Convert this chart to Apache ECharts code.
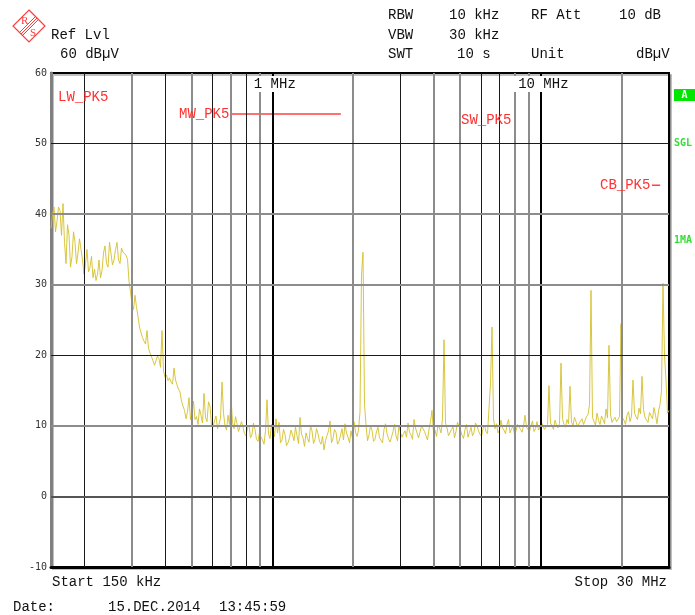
<!DOCTYPE html>
<html><head><meta charset="utf-8">
<script src="https://cdn.jsdelivr.net/npm/echarts@6/dist/echarts.min.js"></script>
<style>html,body{margin:0;padding:0;background:#fff;}#c{width:695px;height:615px;}</style>
</head><body><div id="c"></div>
<script>
// Sweep settings (MHz)
const startFreqMHz = 0.15;
const stopFreqMHz = 30;
const levels = [
 38,40,41,37.5,39,41,40.5,37,41.5,36,33,38.5,37,32.5,34,37.5,36,33,34.5,36.5,
 35,33.5,31.5,33,35,31.8,32.5,34,31,32.2,30.6,31.5,33.5,31,32,34.5,35.5,33,32.5,36,
 35.8,32.8,33.5,35,36,33.5,33,35.2,34.6,34.8,34.2,33.6,30.5,29,
 27.2,26.5,28.5,26.8,25.5,24,23.2,22.5,22,21.6,23.5,21,20.3,19.8,19.2,18.6,18.8,19.9,19.5,18.3,
 23.5,17.8,16.9,17.2,16.4,16.8,16.2,15.9,18.2,16.5,15.8,15.2,14.8,13.5,12.8,12.2,11,12,14,10.9,
 11.8,13.5,10.9,11.3,10.2,12.4,11.5,10.4,14.6,11.2,10.6,13.4,12.8,10.1,9.8,10.7,11.4,9.6,10.2,11.1,
 16.2,11.8,10,9.4,11.5,10.2,14,10.5,9.6,11.3,10.3,9.2,9,10.6,9.8,8.9,8.6,9.7,10.1,8.3,
 8.8,10.4,9.5,8.1,7.8,9.1,8.4,8,7.4,9.3,13.7,8.9,8.2,10.2,9.2,8.5,11,9,
 10.5,7.6,8,9.5,8.8,7.2,7.6,8.3,9.4,8.7,7.9,9.8,8.6,7.5,11.2,8.8,8.3,7.1,9,8.2,
 7.7,10,9.3,7.5,8.1,9.6,8.9,7.8,7.4,8.5,6.6,7.9,8.6,9.3,10.7,7.6,8.2,9.5,9.1,7.4,
 7.8,8.7,9.6,8,10.3,9,8.4,7.6,9.3,8.2,10.6,9.1,8.5,9.4,12,31.4,34.6,13,10.2,7.9,
 8.7,10,9.4,7.8,8.1,9.2,9.8,8.3,8.3,7.6,9.5,10.3,8.9,8.2,7.7,8.4,9.2,10.2,8.6,7.9,
 10.1,9,8.4,8.9,
 9.3,8.4,10.4,9.1,8.7,8.1,10.9,9.7,9.6,8.3,8.5,10,9.8,9.2,8.6,8,9.5,10.6,12.2,9,
 9.4,8.5,10.1,9.7,9,11,22.2,10.4,9.7,8.6,8.8,9.5,9.9,8.3,9.2,10.5,10.3,9.4,8.7,8.2,
 9.5,10.2,8.4,9.1,9.8,8.6,9.1,10.4,10,9.3,8.8,8.5,9.6,10.1,9.2,8.9,12.5,16,24,11,
 9.6,10.3,9,9.4,10.8,9.7,9.4,8.9,10.2,10.9,9,9.6,9.9,8.8,9.3,10.2,10.4,9.5,9.1,10,
 11.5,9.8,9.5,9.2,10,10.7,9.2,9.6,10.6,9.4,9.8,10.5,10.3,9.5,9.6,10.2,15.7,10.4,10,9.5,
 10.8,10.1,9.7,10.3,18.9,11,10.2,9.8,10.9,10.3,15.6,10.5,10.1,11.2,10.6,9.9,9.8,10.7,11,10.2,
 10.4,11.3,11.6,13,29.2,11.2,10.6,10.1,11.8,10.8,10.2,11.4,10.9,10.3,12.4,11.1,21.4,11.6,10.5,10.9,
 11.2,10.6,10.4,11.3,24.5,11.1,10.8,10.2,11.5,12,10.6,11.4,16.5,11.8,11.3,10.9,12.5,11.7,17,12.3,
 11.2,10.8,10.5,11.9,11.7,11,12.6,11.5,10.3,12.1,13,15,30.2,20,16.5,11.8,12.2
];
// Grid
const yTicks = [-10, 0, 10, 20, 30, 40, 50, 60];
const gridFreqs = [0.2, 0.3, 0.4, 0.5, 0.6, 0.7, 0.8, 0.9, 1, 2, 3, 4, 5, 6, 7, 8, 9, 10, 20];
const gridFreqShade = ['k','g','k','g','k','g','k','g','K','g','k','g','g','k','k','g','g','K','g'];
const gridLevels = [0, 10, 20, 30, 40, 50];
const gridLevelShade = ['d','g','k','g','g','k'];
// Limit lines
const mwLimitFreqs = [0.7, 1.8];
const mwLimitLevel = 54.2;
const cbLimitFreqs = [25.9, 27.8];
const cbLimitLevel = 44.1;
const decadeLabels = {1: '1 MHz', 10: '10 MHz'};

const shadeStyle = {
  k: {color: '#1a1a1a', width: 1},
  g: {color: '#8c8c8c', width: 2},
  K: {color: '#000', width: 2},
  d: {color: '#555', width: 2}
};

const N = levels.length;
// sweep points are log-spaced between start and stop frequency
const trace = levels.map((v, i) => [startFreqMHz * Math.pow(stopFreqMHz / startFreqMHz, i / (N - 1)), v]);

const MONO = 'Liberation Mono';
const txt = (x, y, s, opt) => Object.assign({
  type: 'text', x: x, y: y, z: 100,
  style: Object.assign({text: s, font: '14px "' + MONO + '"', fill: '#111', verticalAlign: 'middle'}, (opt && opt.style) || {})
}, opt && opt.el || {});

const chart = echarts.init(document.getElementById('c'), null, {renderer: 'canvas'});
chart.setOption({
  animation: false,
  backgroundColor: '#fff',
  grid: {left: 51, right: 26, top: 73, bottom: 48, show: true, borderColor: '#000', borderWidth: 2,
         backgroundColor: '#fff', shadowColor: 'rgba(0,0,0,0.25)', shadowOffsetX: 2, shadowOffsetY: 2, shadowBlur: 0},
  xAxis: [
    {type: 'log', logBase: 10, min: startFreqMHz, max: stopFreqMHz, position: 'bottom',
     axisLine: {show: true, onZero: false, lineStyle: {color: '#000', width: 3}},
     axisTick: {show: false}, axisLabel: {show: false}, splitLine: {show: false}},
    {type: 'log', logBase: 10, min: startFreqMHz, max: stopFreqMHz, position: 'top', z: 10,
     axisLine: {show: false}, axisTick: {show: false}, splitLine: {show: false},
     axisLabel: {show: true, inside: true, margin: 3,
       formatter: v => { for (const k in decadeLabels) { if (Math.abs(v - Number(k)) < 1e-6) return '{b|' + decadeLabels[k] + '}'; } return ''; },
       rich: {b: {fontFamily: MONO, fontSize: 14, color: '#111', backgroundColor: '#fff', padding: [1, 0, 1, 5]}},
       showMinLabel: false, showMaxLabel: false}}
  ],
  yAxis: {type: 'value', min: yTicks[0], max: yTicks[yTicks.length - 1], interval: 10,
    axisLine: {show: true, lineStyle: {color: '#808080', width: 3}},
    axisTick: {show: false}, splitLine: {show: false},
    axisLabel: {margin: 4, fontSize: 10, fontFamily: 'DejaVu Sans Mono', color: '#333'}},
  series: [
    {type: 'line', name: 'grid', data: [], z: 1, silent: true,
     markLine: {silent: true, symbol: ['none', 'none'], label: {show: false}, animation: false,
       data: gridFreqs.map((f, k) => ({xAxis: f, lineStyle: Object.assign({type: 'solid'}, shadeStyle[gridFreqShade[k]])}))
         .concat(gridLevels.map((l, k) => ({yAxis: l, lineStyle: Object.assign({type: 'solid'}, shadeStyle[gridLevelShade[k]])})))}},
    {type: 'line', name: 'MW limit', z: 3, symbol: 'none', silent: true,
     data: mwLimitFreqs.map(f => [f, mwLimitLevel]), lineStyle: {color: '#ff4040', width: 1.5}},
    {type: 'line', name: 'CB limit', z: 3, symbol: 'none', silent: true,
     data: cbLimitFreqs.map(f => [f, cbLimitLevel]), lineStyle: {color: '#ff4040', width: 1.5}},
    {type: 'line', name: 'trace', z: 4, symbol: 'none', silent: true, data: trace,
     lineStyle: {color: '#d4c02a', width: 1, opacity: 0.9}}
  ],
  graphic: [
    // R&S logo
    {type: 'polygon', z: 100, shape: {points: [[29, 10], [45, 26], [29, 42], [13, 26]]}, style: {fill: 'none', stroke: '#ff3b3b', lineWidth: 1.2}},
    {type: 'line', z: 100, shape: {x1: 35.5, y1: 16.5, x2: 19.5, y2: 32.5}, style: {stroke: '#ff3b3b', lineWidth: 1}},
    {type: 'line', z: 100, shape: {x1: 38.5, y1: 19.5, x2: 22.5, y2: 35.5}, style: {stroke: '#ff3b3b', lineWidth: 1}},
    {type: 'line', z: 100, shape: {x1: 37, y1: 18, x2: 21, y2: 34}, style: {stroke: '#ff3b3b', lineWidth: 1}},
    txt(21, 21, 'R', {style: {font: '11px "Liberation Serif"', fill: '#ff3b3b'}}),
    txt(30, 33, 'S', {style: {font: '11px "Liberation Serif"', fill: '#ff3b3b'}}),
    // header
    txt(51, 35, 'Ref Lvl'),
    txt(60, 54, '60 dBµV'),
    txt(388, 15, 'RBW'), txt(449, 15, '10 kHz'), txt(531, 15, 'RF Att'), txt(619, 15, '10 dB'),
    txt(388, 35, 'VBW'), txt(449, 35, '30 kHz'),
    txt(388, 54, 'SWT'), txt(457, 54, '10 s'), txt(531, 54, 'Unit'), txt(636, 54, 'dBµV'),
    // limit labels
    txt(58, 97, 'LW_PK5', {style: {fill: '#ff3030'}}),
    txt(179, 114, 'MW_PK5', {style: {fill: '#ff3030'}}),
    txt(461, 120, 'SW_PK5', {style: {fill: '#ff3030'}}),
    txt(600, 185, 'CB_PK5', {style: {fill: '#ff3030'}}),
    // right side status
    {type: 'rect', z: 100, shape: {x: 674, y: 89, width: 21, height: 12}, style: {fill: '#00e600'}},
    txt(684.5, 95.5, 'A', {style: {font: 'bold 10px "DejaVu Sans Mono"', fill: '#ffffff', align: 'center'}}),
    txt(674, 143, 'SGL', {style: {font: 'bold 10px "DejaVu Sans Mono"', fill: '#33dd33'}}),
    txt(674, 240, '1MA', {style: {font: 'bold 10px "DejaVu Sans Mono"', fill: '#33dd33'}}),
    // footer
    txt(52, 582, 'Start 150 kHz'),
    txt(667, 582, 'Stop 30 MHz', {style: {align: 'right'}}),
    txt(13, 607, 'Date:'),
    txt(108, 607, '15.DEC.2014'),
    txt(219, 607, '13:45:59')
  ]
});
</script>
</body></html>
